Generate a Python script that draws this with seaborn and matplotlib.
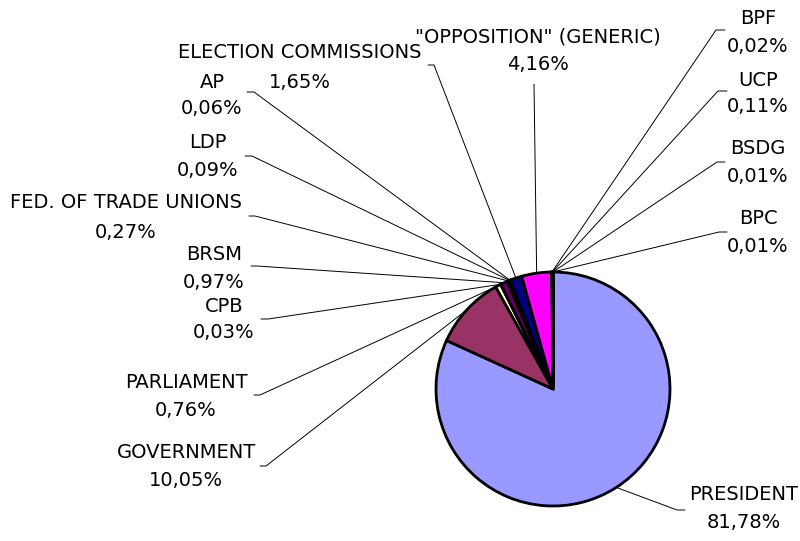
import matplotlib
matplotlib.use("Agg")
import matplotlib.pyplot as plt
import seaborn as sns
import numpy as np

# 数据
parties = ['PRESIDENT', 'GOVERNMENT', 'PARLIAMENT', 'CPB', 'BRSM',
           'FED. OF TRADE UNIONS', 'LDP', 'AP', 'ELECTION COMMISSIONS',
           '"OPPOSITION" (GENERIC)', 'BPF', 'UCP', 'BSDG', 'BPC']
shares = [81.78, 10.05, 0.76, 0.03, 0.97, 0.27, 0.09, 0.06, 1.65, 4.16,
          0.02, 0.11, 0.01, 0.01]
colors = ['#9999FF', '#993366', '#FFFFCC', '#CCFFFF', '#660066', '#FF8080',
          '#0066CC', '#CCCCFF', '#000080', '#FF00FF', '#FFFF00', '#00FFFF',
          '#800080', '#800000']

# 标签位置 (像素, y 从顶部算): 文字中心 x, 名称 y, 百分比 y
W, H = 800, 541
label_x = [744, 186, 186, 224, 214, 126, 208, 212, 300, 538,
           758, 758, 758, 758]
name_y = [495, 453, 382, 307, 255, 203, 143, 82, 52, 37,
          18, 80, 148, 218]
pct_y = [523, 480, 410, 333, 282, 232, 171, 108, 82, 65,
         47, 107, 176, 246]
# 引线起点与短横方向
leader_start = [(685, 510), (260, 466), (254, 395), (261, 319), (251, 266),
                (249, 216), (245, 156), (247, 92), (428, 65), (534, 84),
                (725, 30), (727, 91), (725, 162), (727, 232)]
tick_dx = [-8, 6, 6, 7, 6, 6, 7, 7, 6, 0, -9, -9, -8, -8]

sns.set_theme(style="white")
plt.rcParams['font.family'] = ['DejaVu Sans']

fig = plt.figure(figsize=(8, 5.41), dpi=100)
ax = fig.add_axes([0, 0, 1, 1])

center = (553, H - 389)
radius = 117
wedges, _ = ax.pie(shares, colors=colors, startangle=90, counterclock=False,
                   center=center, radius=radius, frame=True,
                   wedgeprops=dict(edgecolor='black', linewidth=2.0))

for i, w in enumerate(wedges):
    mid = np.deg2rad((w.theta1 + w.theta2) / 2)
    ex = center[0] + radius * np.cos(mid)
    ey = center[1] + radius * np.sin(mid)
    lx, ly = leader_start[i]
    xs = [lx, lx + tick_dx[i], ex]
    ys = [H - ly, H - ly, ey]
    ax.plot(xs, ys, color='black', lw=0.7, solid_joinstyle='miter', zorder=0)
    pct = f"{shares[i]:.2f}".replace('.', ',')
    ax.text(label_x[i], H - name_y[i], parties[i], ha='center', va='center',
            fontsize=14, color='black')
    ax.text(label_x[i], H - pct_y[i], f"{pct}%", ha='center', va='center',
            fontsize=14, color='black')

ax.set_xlim(0, W)
ax.set_ylim(0, H)
ax.axis('off')

fig.savefig('out.png', dpi=100, facecolor='white')
